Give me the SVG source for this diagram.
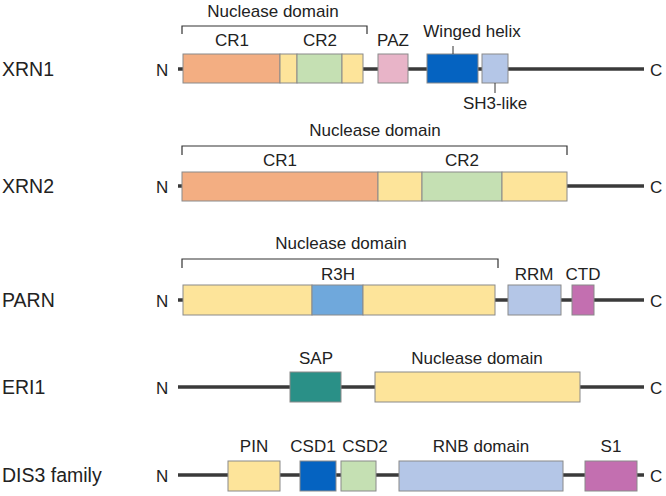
<svg xmlns="http://www.w3.org/2000/svg" width="666" height="496" viewBox="0 0 666 496">
<style>
text{font-family:"Liberation Sans",Arial,sans-serif;fill:#222;font-size:17px}
.name{font-size:19.5px}
.lab{text-anchor:middle}
.bb{stroke:#8a8a8a;stroke-width:1}
.ln{stroke:#3a3a3a;stroke-width:3.5}
.br{fill:none;stroke:#333;stroke-width:1.2}
</style>
<rect width="666" height="496" fill="#fff"/>
<g id="connectors">
<line class="ln" x1="178" y1="69" x2="644" y2="69"/>
<line class="ln" x1="178" y1="186" x2="644" y2="186"/>
<line class="ln" x1="178" y1="300" x2="644" y2="300"/>
<line class="ln" x1="178" y1="387" x2="644" y2="387"/>
<line class="ln" x1="178" y1="475" x2="644" y2="475"/>
</g>
<g id="xrn1">
<text class="name" x="2" y="76">XRN1</text>
<text x="156" y="76">N</text><text x="650" y="76">C</text>
<path class="br" d="M182,34 V26 H367 V34"/>
<text class="lab" x="273" y="17">Nuclease domain</text>
<rect class="bb" x="183" y="54" width="97" height="29" fill="#f3ae82"/>
<rect class="bb" x="280" y="54" width="17" height="29" fill="#fde49a"/>
<rect class="bb" x="297" y="54" width="45" height="29" fill="#c5e0b3"/>
<rect class="bb" x="342" y="54" width="21" height="29" fill="#fde49a"/>
<rect class="bb" x="378" y="54" width="30" height="29" fill="#e8b4c8"/>
<rect class="bb" x="427" y="54" width="51" height="29" fill="#0563c1"/>
<rect class="bb" x="482" y="54" width="26" height="29" fill="#b4c6e7"/>
<line x1="453" y1="46" x2="453" y2="54" stroke="#333"/>
<line x1="495" y1="83" x2="495" y2="93" stroke="#333"/>
<text class="lab" x="232" y="46">CR1</text>
<text class="lab" x="320" y="46">CR2</text>
<text class="lab" x="393" y="46">PAZ</text>
<text class="lab" x="472" y="37">Winged helix</text>
<text class="lab" x="495" y="109">SH3-like</text>
</g>
<g id="xrn2">
<text class="name" x="2" y="193">XRN2</text>
<text x="156" y="193">N</text><text x="650" y="193">C</text>
<path class="br" d="M182,155 V146 H567 V155"/>
<text class="lab" x="375" y="136">Nuclease domain</text>
<rect class="bb" x="182" y="172" width="196" height="29" fill="#f3ae82"/>
<rect class="bb" x="378" y="172" width="44" height="29" fill="#fde49a"/>
<rect class="bb" x="422" y="172" width="80" height="29" fill="#c5e0b3"/>
<rect class="bb" x="502" y="172" width="65" height="29" fill="#fde49a"/>
<text class="lab" x="280" y="166">CR1</text>
<text class="lab" x="462" y="166">CR2</text>
</g>
<g id="parn">
<text class="name" x="2" y="307">PARN</text>
<text x="156" y="307">N</text><text x="650" y="307">C</text>
<path class="br" d="M182,268 V259 H498 V268"/>
<text class="lab" x="341" y="249">Nuclease domain</text>
<rect class="bb" x="183" y="285" width="129" height="30" fill="#fde49a"/>
<rect class="bb" x="312" y="285" width="51" height="30" fill="#6fa8dc"/>
<rect class="bb" x="363" y="285" width="132" height="30" fill="#fde49a"/>
<rect class="bb" x="508" y="285" width="53" height="30" fill="#b4c6e7"/>
<rect class="bb" x="572" y="285" width="22" height="30" fill="#c36fb0"/>
<text class="lab" x="338" y="280">R3H</text>
<text class="lab" x="534" y="280">RRM</text>
<text class="lab" x="583" y="280">CTD</text>
</g>
<g id="eri1">
<text class="name" x="2" y="394">ERI1</text>
<text x="156" y="394">N</text><text x="650" y="394">C</text>
<rect class="bb" x="290" y="372" width="51" height="30" fill="#2a9087"/>
<rect class="bb" x="375" y="372" width="205" height="30" fill="#fde49a"/>
<text class="lab" x="316" y="364">SAP</text>
<text class="lab" x="477" y="364">Nuclease domain</text>
</g>
<g id="dis3">
<text class="name" x="2" y="482">DIS3 family</text>
<text x="156" y="482">N</text><text x="650" y="482">C</text>
<rect class="bb" x="228" y="461" width="52" height="30" fill="#fde49a"/>
<rect class="bb" x="300" y="461" width="36" height="30" fill="#0563c1"/>
<rect class="bb" x="341" y="461" width="35" height="30" fill="#c5e0b3"/>
<rect class="bb" x="399" y="461" width="164" height="30" fill="#b4c6e7"/>
<rect class="bb" x="585" y="461" width="52" height="30" fill="#c36fb0"/>
<text class="lab" x="254" y="452">PIN</text>
<text class="lab" x="313" y="452">CSD1</text>
<text class="lab" x="365" y="452">CSD2</text>
<text class="lab" x="481" y="452">RNB domain</text>
<text class="lab" x="611" y="452">S1</text>
</g>
</svg>
